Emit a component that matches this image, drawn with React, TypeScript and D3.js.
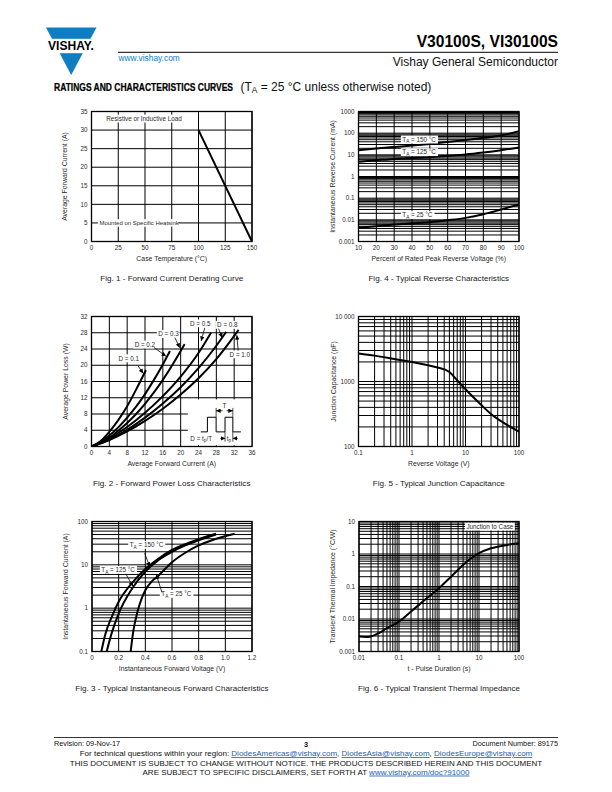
import * as d3 from 'd3'
import type { ReactNode } from 'react'

const FONT = "'Liberation Sans', Arial, Helvetica, sans-serif"
const BLUE = '#0f7dc2'
const LINK = '#1b5fae'
const TXT = '#2a2a2a'

// Fig. 1 - forward current derating
const deratingTemp = [100, 150]
const deratingCurrent = [30, 0]
const fig1XTicks = [0, 25, 50, 75, 100, 125, 150]
const fig1YTicks = [0, 5, 10, 15, 20, 25, 30, 35]

// Fig. 2 - forward power loss, one array pair per duty cycle
const dutyNames = ['D = 0.1', 'D = 0.2', 'D = 0.3', 'D = 0.5', 'D = 0.8', 'D = 1.0']
const lossI01 = [0, 2, 4, 6, 8, 10, 12.2]
const lossP01 = [0, 1.3, 3.6, 6.5, 9.9, 14.0, 18.8]
const lossI02 = [0, 2, 4, 6, 8, 10, 12, 14, 16, 17.6]
const lossP02 = [0, 1.1, 2.7, 4.7, 7.1, 9.8, 12.9, 16.4, 20.2, 23.5]
const lossI03 = [0, 2, 4, 6, 8, 10, 12, 14, 16, 18, 20, 20.9]
const lossP03 = [0, 0.9, 2.2, 3.9, 5.8, 8.0, 10.5, 13.3, 16.4, 19.8, 23.5, 25.2]
const lossI05 = [0, 4, 8, 12, 16, 20, 24, 26.8]
const lossP05 = [0, 2.0, 4.8, 8.3, 12.4, 17.2, 23.0, 28.0]
const lossI08 = [0, 4, 8, 12, 16, 20, 24, 28, 30.2]
const lossP08 = [0, 1.7, 4.1, 7.1, 10.6, 14.6, 19.3, 24.8, 28.2]
const lossI10 = [0, 4, 8, 12, 16, 20, 24, 28, 33]
const lossP10 = [0, 1.6, 3.7, 6.3, 9.3, 12.8, 16.8, 21.5, 28.7]
const fig2XTicks = [0, 4, 8, 12, 16, 20, 24, 28, 32, 36]
const fig2YTicks = [0, 4, 8, 12, 16, 20, 24, 28, 32]

// Fig. 3 - instantaneous forward characteristics
const vf150 = [0.07, 0.1, 0.15, 0.2, 0.3, 0.4, 0.5, 0.6, 0.7, 0.8, 0.93]
const if150 = [0.1, 0.25, 0.65, 1.4, 3.8, 8, 14, 22, 30, 39, 52]
const vf125 = [0.11, 0.15, 0.2, 0.3, 0.4, 0.5, 0.6, 0.7, 0.8, 0.93]
const if125 = [0.1, 0.28, 0.75, 2.8, 7, 13, 20, 28, 37, 50]
const vf25 = [0.29, 0.31, 0.34, 0.37, 0.4, 0.45, 0.5, 0.6, 0.7, 0.8, 0.9, 1.07]
const if25 = [0.1, 0.3, 0.8, 1.6, 2.6, 4.2, 5.7, 11.5, 19, 28, 37, 52]
const fig3XTicks = [0, 0.2, 0.4, 0.6, 0.8, 1.0, 1.2]
const fig3XLabels = ['0', '0.2', '0.4', '0.6', '0.8', '1.0', '1.2']
const fig3YTicks = [0.1, 1, 10, 100]
const fig3YLabels = ['0.1', '1', '10', '100']

// Fig. 4 - reverse characteristics
const vrPercent = [10, 20, 30, 40, 50, 60, 70, 80, 90, 100]
const ir150 = [16.4, 19.5, 23, 27, 32, 39, 48, 61, 78, 123]
const ir125 = [4.8, 5.6, 6.5, 7.1, 7.8, 9.0, 10.4, 12.8, 16.4, 22]
const ir25 = [0.0043, 0.0051, 0.0061, 0.0069, 0.0078, 0.0096, 0.0123, 0.018, 0.03, 0.051]
const fig4XTicks = [10, 20, 30, 40, 50, 60, 70, 80, 90, 100]
const fig4YTicks = [0.001, 0.01, 0.1, 1, 10, 100, 1000]
const fig4YLabels = ['0.001', '0.01', '0.1', '1', '10', '100', '1000']

// Fig. 5 - junction capacitance
const capVoltage = [0.1, 0.2, 0.5, 1, 2, 3, 5, 7, 10, 20, 30, 50, 100]
const capValue = [2700, 2500, 2200, 2000, 1780, 1640, 1400, 1040, 760, 430, 316, 235, 170]
const fig5XTicks = [0.1, 1, 10, 100]
const fig5XLabels = ['0.1', '1', '10', '100']
const fig5YTicks = [100, 1000, 10000]
const fig5YLabels = ['100', '1000', '10 000']

// Fig. 6 - transient thermal impedance
const pulseTime = [0.01, 0.015, 0.02, 0.03, 0.05, 0.1, 0.2, 0.5, 1, 2, 5, 10, 20, 50, 100]
const zthValue = [0.0029, 0.0028, 0.0029, 0.0036, 0.0052, 0.0083, 0.017, 0.044, 0.089, 0.2, 0.59, 1.06, 1.5, 1.9, 2.15]
const fig6XTicks = [0.01, 0.1, 1, 10, 100]
const fig6XLabels = ['0.01', '0.1', '1', '10', '100']
const fig6YTicks = [0.001, 0.01, 0.1, 1, 10]
const fig6YLabels = ['0.001', '0.01', '0.1', '1', '10']

type Scale = (v: number) => number
type Curve = { xs: number[]; ys: number[] }

const logGrid = (lo: number, hi: number) => {
  const out: number[] = []
  const e0 = Math.round(Math.log10(lo))
  const e1 = Math.round(Math.log10(hi))
  for (let e = e0; e < e1; e++) for (let k = 1; k < 10; k++) out.push(+(k * Math.pow(10, e)).toPrecision(3))
  out.push(hi)
  return out
}

const textWidth = (s: string, fs: number) => {
  let w = 0
  for (const c of s) {
    if (c === ' ' || c === '.' || c === 'i' || c === 'l' || c === 't' || c === 'f') w += 0.28
    else if (/[0-9]/.test(c)) w += 0.556
    else if (/[A-Z]/.test(c)) w += 0.68
    else w += 0.52
  }
  return w * fs
}

// text with a white box behind it
function Tag(props: { x: number; y: number; text: string; sub?: string; rest?: string; fs?: number; anchor?: 'start' | 'middle' | 'end' }) {
  const fs = props.fs ?? 6.3
  const w = props.sub ? textWidth(props.text, fs) + textWidth(props.sub, fs * 0.75) + textWidth(props.rest ?? '', fs) : textWidth(props.text, fs)
  const anchor = props.anchor ?? 'start'
  const x0 = anchor === 'middle' ? props.x - w / 2 : anchor === 'end' ? props.x - w : props.x
  return (
    <g>
      <rect x={x0 - 1.5} y={props.y - fs * 0.62} width={w + 3} height={fs * 1.25} fill='#fff' />
      <text x={x0} y={props.y + fs * 0.36} fontSize={fs} fill={TXT}>
        {props.text}
        {props.sub && (
          <tspan fontSize={fs * 0.75} dy={fs * 0.25}>
            {props.sub}
          </tspan>
        )}
        {props.sub && <tspan dy={-fs * 0.25}>{props.rest}</tspan>}
      </text>
    </g>
  )
}

function Arrow({ x1, y1, x2, y2 }: { x1: number; y1: number; x2: number; y2: number }) {
  return <line x1={x1} y1={y1} x2={x2} y2={y2} stroke='#000' strokeWidth={0.8} markerEnd='url(#arrowHead)' />
}

type PlotProps = {
  id: string
  left: number
  top: number
  width: number
  height: number
  xLog?: boolean
  yLog?: boolean
  xDomain: [number, number]
  yDomain: [number, number]
  xGrid: number[]
  yGrid: number[]
  xTicks: number[]
  xLabels?: string[]
  yTicks: number[]
  yLabels?: string[]
  curves: Curve[]
  xTitle: string
  yTitle: string
  yTitleX: number
  caption: string
  under?: (x: Scale, y: Scale) => ReactNode
  over?: (x: Scale, y: Scale) => ReactNode
}

function Plot(p: PlotProps) {
  const right = p.left + p.width
  const bottom = p.top + p.height
  const x = (p.xLog ? d3.scaleLog() : d3.scaleLinear()).domain(p.xDomain).range([p.left, right])
  const y = (p.yLog ? d3.scaleLog() : d3.scaleLinear()).domain(p.yDomain).range([bottom, p.top])
  const line = d3
    .line<[number, number]>()
    .x((d) => x(d[0]))
    .y((d) => y(d[1]))
    .curve(d3.curveMonotoneX)

  return (
    <g>
      <clipPath id={'clip-' + p.id}>
        <rect x={p.left} y={p.top} width={p.width} height={p.height} />
      </clipPath>
      <g stroke='#000' strokeWidth={1}>
        {p.xGrid.map((v, i) => (
          <line key={'gx' + i} x1={x(v)} x2={x(v)} y1={p.top} y2={bottom} />
        ))}
        {p.yGrid.map((v, i) => (
          <line key={'gy' + i} x1={p.left} x2={right} y1={y(v)} y2={y(v)} />
        ))}
      </g>
      {p.under && p.under(x, y)}
      <g clipPath={'url(#clip-' + p.id + ')'} fill='none' stroke='#000' strokeWidth={2}>
        {p.curves.map((c, i) => (
          <path key={i} d={line(c.xs.map((v, j) => [v, c.ys[j]] as [number, number])) ?? ''} />
        ))}
      </g>
      {p.over && p.over(x, y)}
      <rect x={p.left} y={p.top} width={p.width} height={p.height} fill='none' stroke='#000' strokeWidth={1.3} />
      <g fontSize={6.3} fill={TXT}>
        {p.xTicks.map((v, i) => (
          <text key={'tx' + i} x={x(v)} y={bottom + 8.5} textAnchor='middle'>
            {p.xLabels ? p.xLabels[i] : String(v)}
          </text>
        ))}
        {p.yTicks.map((v, i) => (
          <text key={'ty' + i} x={p.left - 4} y={y(v) + 2.2} textAnchor='end'>
            {p.yLabels ? p.yLabels[i] : String(v)}
          </text>
        ))}
      </g>
      <text x={(p.left + right) / 2} y={bottom + 19} textAnchor='middle' fontSize={6.9} fill={TXT}>
        {p.xTitle}
      </text>
      <text
        transform={`translate(${p.yTitleX},${(p.top + bottom) / 2}) rotate(-90)`}
        textAnchor='middle'
        dy={2.4}
        fontSize={6.9}
        fill={TXT}
      >
        {p.yTitle}
      </text>
      <text x={(p.left + right) / 2} y={bottom + 39} textAnchor='middle' fontSize={8.1} fill='#1a1a1a'>
        {p.caption}
      </text>
    </g>
  )
}

const LEFT = 91.5
const RIGHT = 358.5
const W = 160.5
const H = 130

function Header() {
  return (
    <g>
      <polygon points='46,27.5 96.5,27.5 71.2,75' fill={BLUE} />
      <rect x={40} y={38.8} width={64} height={14.4} fill='#fff' />
      <text transform='translate(71,50.3) scale(0.93,1)' textAnchor='middle' fontSize={13} fontWeight='bold' fill='#000'>
        VISHAY.
      </text>
      <text x={558} y={46.7} textAnchor='end' fontSize={15.6} fontWeight='bold' fill='#000'>
        V30100S, VI30100S
      </text>
      <line x1={118} x2={558} y1={52.3} y2={52.3} stroke='#000' strokeWidth={1} />
      <text x={118.5} y={61} fontSize={8.4} fill={BLUE}>
        www.vishay.com
      </text>
      <text x={558} y={65.7} textAnchor='end' fontSize={12} fill='#111'>
        Vishay General Semiconductor
      </text>
      <text transform='translate(54,90.7) scale(0.85,1)' fontSize={10} fontWeight='bold' fill='#000' stroke='#000' strokeWidth={0.25}>
        RATINGS AND CHARACTERISTICS CURVES
      </text>
      <text x={240.5} y={90.7} fontSize={12} fill='#111'>
        (T
        <tspan fontSize={8.4} dy={2}>
          A
        </tspan>
        <tspan dy={-2}>{' = 25 °C unless otherwise noted)'}</tspan>
      </text>
    </g>
  )
}

function Footer() {
  const link = { fill: LINK, textDecoration: 'underline' }
  return (
    <g fill='#111'>
      <line x1={54} x2={558} y1={737.5} y2={737.5} stroke='#000' strokeWidth={0.8} />
      <g fontSize={7.3}>
        <text x={54} y={745.8}>
          Revision: 09-Nov-17
        </text>
        <text x={306} y={746.5} textAnchor='middle' fontWeight='bold'>
          3
        </text>
        <text x={558} y={745.8} textAnchor='end'>
          Document Number: 89175
        </text>
      </g>
      <g fontSize={8}>
        <text x={306} y={756.2} textAnchor='middle'>
          For technical questions within your region: <tspan style={link}>DiodesAmericas@vishay.com</tspan>,{' '}
          <tspan style={link}>DiodesAsia@vishay.com</tspan>, <tspan style={link}>DiodesEurope@vishay.com</tspan>
        </text>
        <text x={306} y={765.8} textAnchor='middle'>
          THIS DOCUMENT IS SUBJECT TO CHANGE WITHOUT NOTICE. THE PRODUCTS DESCRIBED HEREIN AND THIS DOCUMENT
        </text>
        <text x={306} y={774.6} textAnchor='middle'>
          ARE SUBJECT TO SPECIFIC DISCLAIMERS, SET FORTH AT <tspan style={link}>www.vishay.com/doc?91000</tspan>
        </text>
      </g>
    </g>
  )
}

export default function App() {
  const fig2Curves = [
    { xs: lossI01, ys: lossP01 },
    { xs: lossI02, ys: lossP02 },
    { xs: lossI03, ys: lossP03 },
    { xs: lossI05, ys: lossP05 },
    { xs: lossI08, ys: lossP08 },
    { xs: lossI10, ys: lossP10 }
  ]
  // label centre and arrow (from, to) in data units
  const dutyNotes = [
    { at: [8.3, 21.7], arrow: [10.4, 19.9, 11.6, 18.0] },
    { at: [11.9, 25.1], arrow: [14.0, 24.4, 16.7, 22.2] },
    { at: [17.2, 27.7], arrow: [18.7, 26.8, 19.8, 24.3] },
    { at: [24.3, 30.3], arrow: [25.4, 29.2, 24.6, 26.0] },
    { at: [30.4, 29.95], arrow: [28.5, 29.0, 29.3, 26.8] },
    { at: [33.2, 22.7], arrow: [32.9, 23.6, 32.6, 27.4] }
  ]

  return (
    <svg
      width={612}
      height={792}
      viewBox='0 0 612 792'
      style={{ position: 'absolute', left: 0, top: 0, background: '#fff' }}
      fontFamily={FONT}
    >
      <defs>
        <marker id='arrowHead' viewBox='0 0 10 10' refX={10} refY={5} markerWidth={4.5} markerHeight={4.5} markerUnits='userSpaceOnUse' orient='auto-start-reverse'>
          <path d='M0,0 L10,5 L0,10 z' fill='#000' />
        </marker>
      </defs>
      <rect width={612} height={792} fill='#fff' />
      <Header />

      <Plot
        id='f1'
        left={LEFT}
        top={111.5}
        width={W}
        height={H}
        xDomain={[0, 150]}
        yDomain={[0, 35]}
        xGrid={fig1XTicks}
        yGrid={fig1YTicks}
        xTicks={fig1XTicks}
        yTicks={fig1YTicks}
        curves={[{ xs: deratingTemp, ys: deratingCurrent }]}
        xTitle='Case Temperature (°C)'
        yTitle='Average Forward Current (A)'
        yTitleX={65}
        caption='Fig. 1 - Forward Current Derating Curve'
        over={(x, y) => (
          <g>
            <Tag x={x(50.8)} y={y(33.1)} text='Resistive or Inductive Load' anchor='middle' />
            <Tag x={x(43.5)} y={y(5)} text='Mounted on Specific Heatsink' anchor='middle' fs={6} />
          </g>
        )}
      />

      <Plot
        id='f4'
        left={RIGHT}
        top={111.5}
        width={W}
        height={H}
        yLog
        xDomain={[10, 100]}
        yDomain={[0.001, 1000]}
        xGrid={fig4XTicks}
        yGrid={logGrid(0.001, 1000)}
        xTicks={fig4XTicks}
        yTicks={fig4YTicks}
        yLabels={fig4YLabels}
        curves={[
          { xs: vrPercent, ys: ir150 },
          { xs: vrPercent, ys: ir125 },
          { xs: vrPercent, ys: ir25 }
        ]}
        xTitle='Percent of Rated Peak Reverse Voltage (%)'
        yTitle='Instantaneous Reverse Current (mA)'
        yTitleX={333}
        caption='Fig. 4 - Typical Reverse Characteristics'
        over={(x, y) => (
          <g>
            <Tag x={x(34.6)} y={y(51)} text='T' sub='A' rest=' = 150 °C' />
            <Tag x={x(34.6)} y={y(13.4)} text='T' sub='A' rest=' = 125 °C' />
            <Tag x={x(34.6)} y={y(0.0166)} text='T' sub='A' rest=' = 25 °C' />
          </g>
        )}
      />

      <Plot
        id='f2'
        left={LEFT}
        top={316.5}
        width={W}
        height={H}
        xDomain={[0, 36]}
        yDomain={[0, 32]}
        xGrid={fig2XTicks}
        yGrid={fig2YTicks}
        xTicks={fig2XTicks}
        yTicks={fig2YTicks}
        curves={fig2Curves}
        xTitle='Average Forward Current (A)'
        yTitle='Average Power Loss (W)'
        yTitleX={66}
        caption='Fig. 2 - Forward Power Loss Characteristics'
        under={(x, y) => (
          <g>
            <rect x={x(21.6)} y={y(11.6)} width={x(36) - x(21.6)} height={y(0.3) - y(11.6)} fill='#fff' />
            <path
              d={`M${x(24.5)},${y(3.6)}H${x(26)}V${y(7.2)}H${x(27.95)}V${y(3.6)}H${x(29.95)}V${y(7.2)}H${x(31.7)}V${y(3.6)}H${x(33.5)}`}
              fill='none'
              stroke='#000'
              strokeWidth={1}
            />
            <g stroke='#000' strokeWidth={0.7}>
              <line x1={x(27.95)} x2={x(27.95)} y1={y(7.2)} y2={y(9.5)} />
              <line x1={x(31.7)} x2={x(31.7)} y1={y(7.2)} y2={y(9.5)} />
              <line x1={x(29.95)} x2={x(29.95)} y1={y(3.6)} y2={y(1.2)} />
              <line x1={x(31.7)} x2={x(31.7)} y1={y(3.6)} y2={y(1.2)} />
            </g>
            <Arrow x1={x(29.4)} y1={y(8.8)} x2={x(27.95)} y2={y(8.8)} />
            <Arrow x1={x(30.3)} y1={y(8.8)} x2={x(31.7)} y2={y(8.8)} />
            <text x={x(29.83)} y={y(9.4)} fontSize={6.3} textAnchor='middle' fill={TXT}>
              T
            </text>
            <Arrow x1={x(28.9)} y1={y(2.0)} x2={x(29.95)} y2={y(2.0)} />
            <Arrow x1={x(32.8)} y1={y(2.0)} x2={x(31.7)} y2={y(2.0)} />
            <text x={x(30.83)} y={y(2.0) + 2.2} fontSize={6.3} textAnchor='middle' fill={TXT}>
              t<tspan fontSize={4.6} dy={1.4}>p</tspan>
            </text>
            <text x={x(24.6)} y={y(2.0) + 2.2} fontSize={6.3} textAnchor='middle' fill={TXT}>
              D = t<tspan fontSize={4.6} dy={1.4}>p</tspan>
              <tspan dy={-1.4}>/T</tspan>
            </text>
          </g>
        )}
        over={(x, y) => (
          <g>
            {dutyNotes.map((n, i) => (
              <g key={i}>
                <Tag x={x(n.at[0])} y={y(n.at[1])} text={dutyNames[i]} anchor='middle' />
                <Arrow x1={x(n.arrow[0])} y1={y(n.arrow[1])} x2={x(n.arrow[2])} y2={y(n.arrow[3])} />
              </g>
            ))}
          </g>
        )}
      />

      <Plot
        id='f5'
        left={RIGHT}
        top={316.5}
        width={W}
        height={H}
        xLog
        yLog
        xDomain={[0.1, 100]}
        yDomain={[100, 10000]}
        xGrid={logGrid(0.1, 100)}
        yGrid={logGrid(100, 10000)}
        xTicks={fig5XTicks}
        xLabels={fig5XLabels}
        yTicks={fig5YTicks}
        yLabels={fig5YLabels}
        curves={[{ xs: capVoltage, ys: capValue }]}
        xTitle='Reverse Voltage (V)'
        yTitle='Junction Capacitance (pF)'
        yTitleX={334}
        caption='Fig. 5 - Typical Junction Capacitance'
      />

      <Plot
        id='f3'
        left={92}
        top={521.5}
        width={160}
        height={H}
        yLog
        xDomain={[0, 1.2]}
        yDomain={[0.1, 100]}
        xGrid={fig3XTicks}
        yGrid={logGrid(0.1, 100)}
        xTicks={fig3XTicks}
        xLabels={fig3XLabels}
        yTicks={fig3YTicks}
        yLabels={fig3YLabels}
        curves={[
          { xs: vf150, ys: if150 },
          { xs: vf125, ys: if125 },
          { xs: vf25, ys: if25 }
        ]}
        xTitle='Instantaneous Forward Voltage (V)'
        yTitle='Instantaneous Forward Current (A)'
        yTitleX={66}
        caption='Fig. 3 - Typical Instantaneous Forward Characteristics'
        over={(x, y) => (
          <g>
            <Tag x={x(0.283)} y={y(29)} text='T' sub='A' rest=' = 150 °C' />
            <Arrow x1={x(0.395)} y1={y(18.5)} x2={x(0.433)} y2={y(9.1)} />
            <Tag x={x(0.07)} y={y(7.7)} text='T' sub='A' rest=' = 125 °C' />
            <Arrow x1={x(0.257)} y1={y(5.9)} x2={x(0.3075)} y2={y(3.2)} />
            <Tag x={x(0.52)} y={y(2.14)} text='T' sub='A' rest=' = 25 °C' />
            <Arrow x1={x(0.525)} y1={y(2.3)} x2={x(0.482)} y2={y(5.9)} />
          </g>
        )}
      />

      <Plot
        id='f6'
        left={359}
        top={521.5}
        width={160}
        height={H}
        xLog
        yLog
        xDomain={[0.01, 100]}
        yDomain={[0.001, 10]}
        xGrid={logGrid(0.01, 100)}
        yGrid={logGrid(0.001, 10)}
        xTicks={fig6XTicks}
        xLabels={fig6XLabels}
        yTicks={fig6YTicks}
        yLabels={fig6YLabels}
        curves={[{ xs: pulseTime, ys: zthValue }]}
        xTitle='t - Pulse Duration (s)'
        yTitle='Transient Thermal Impedance (°C/W)'
        yTitleX={333}
        caption='Fig. 6 - Typical Transient Thermal Impedance'
        over={(x, y) => <Tag x={x(72)} y={y(7)} text='Junction to Case' anchor='end' />}
      />

      <Footer />
    </svg>
  )
}
